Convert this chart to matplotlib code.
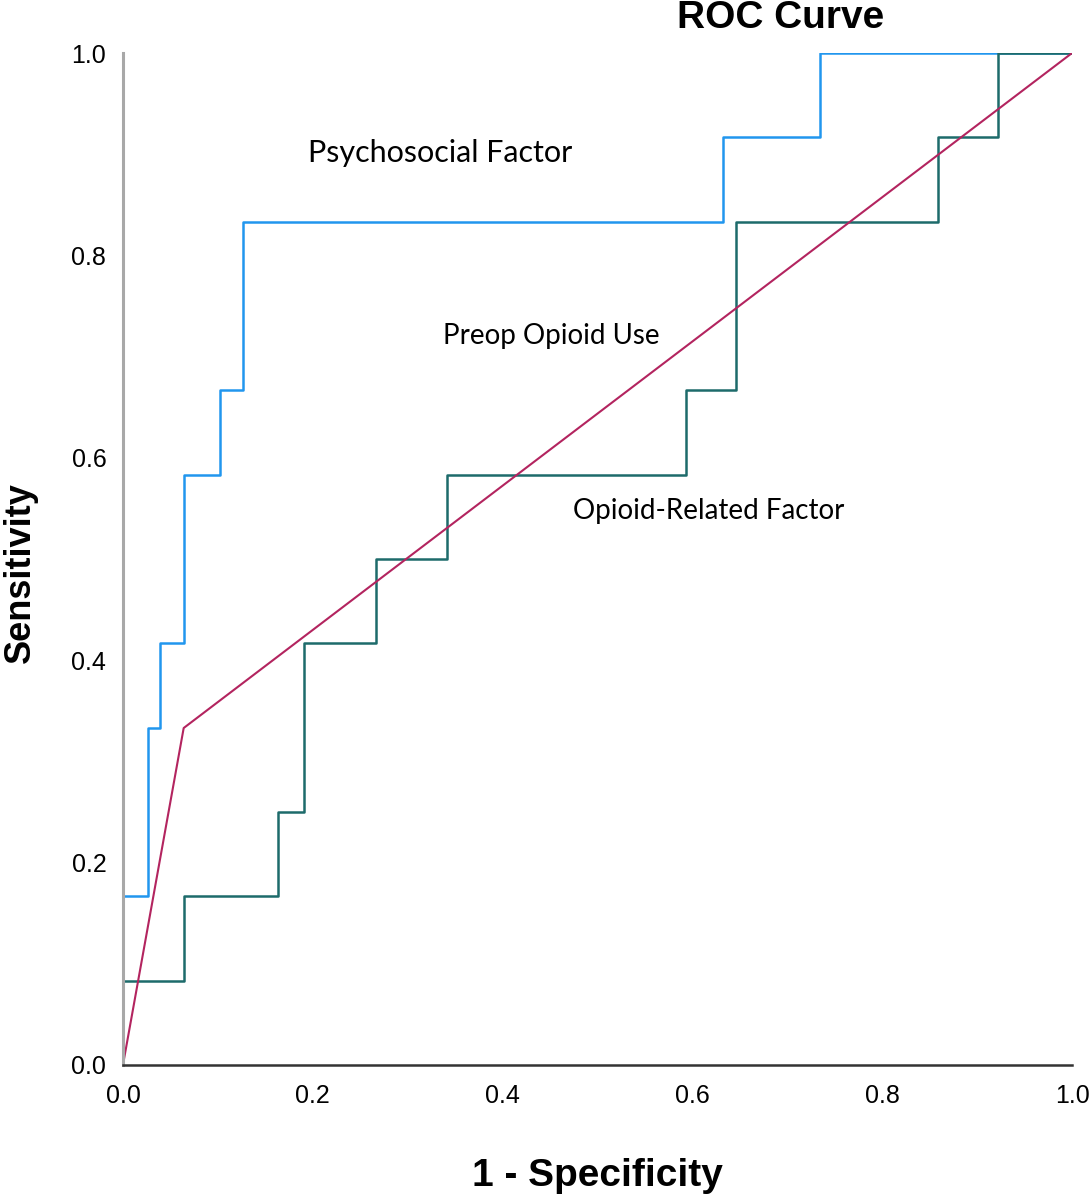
import matplotlib
matplotlib.use("Agg")
import matplotlib.pyplot as plt

# ROC corner points (1 - specificity, sensitivity)
psych_fpr = [0, 0, 0.026, 0.026, 0.039, 0.039, 0.064, 0.064, 0.102, 0.102,
             0.127, 0.127, 0.632, 0.632, 0.734, 0.734, 1.0]
psych_tpr = [0, 0.167, 0.167, 0.333, 0.333, 0.417, 0.417, 0.583, 0.583, 0.667,
             0.667, 0.833, 0.833, 0.917, 0.917, 1.0, 1.0]

opioid_fpr = [0, 0, 0.064, 0.064, 0.163, 0.163, 0.191, 0.191, 0.267, 0.267,
              0.341, 0.341, 0.593, 0.593, 0.646, 0.646, 0.859, 0.859, 0.922,
              0.922, 1.0]
opioid_tpr = [0, 0.083, 0.083, 0.167, 0.167, 0.25, 0.25, 0.417, 0.417, 0.5,
              0.5, 0.583, 0.583, 0.667, 0.667, 0.833, 0.833, 0.917, 0.917,
              1.0, 1.0]

preop_fpr = [0, 0.064, 1.0]
preop_tpr = [0, 0.333, 1.0]

ticks = [0.0, 0.2, 0.4, 0.6, 0.8, 1.0]
tick_labels = ["0.0", "0.2", "0.4", "0.6", "0.8", "1.0"]

fig = plt.figure(figsize=(10.9, 12), dpi=100)
ax = fig.add_axes([0.1128, 0.1125, 0.8707, 0.8433])

ax.plot(psych_fpr, psych_tpr, color="#2196EE", lw=1.8)
ax.plot(opioid_fpr, opioid_tpr, color="#1D6B6B", lw=1.8)
ax.plot(preop_fpr, preop_tpr, color="#B3245F", lw=1.5)

ax.set_xlim(0, 1)
ax.set_ylim(0, 1)
ax.set_xticks(ticks)
ax.set_xticklabels(tick_labels)
ax.set_yticks(ticks)
ax.set_yticklabels(tick_labels)
ax.tick_params(axis="x", length=0, labelsize=18, pad=14)
ax.tick_params(axis="y", length=0, labelsize=18, pad=12)
for lab in ax.get_xticklabels() + ax.get_yticklabels():
    lab.set_family("Liberation Sans")

for side in ["top", "right"]:
    ax.spines[side].set_visible(False)
ax.spines["left"].set_color("#A8A8A8")
ax.spines["left"].set_linewidth(2.2)
ax.spines["bottom"].set_color("#333333")
ax.spines["bottom"].set_linewidth(1.8)

ax.set_xlabel("1 - Specificity", family="Liberation Sans", fontsize=28,
              fontweight="bold", labelpad=36)
ax.set_ylabel("Sensitivity", family="Liberation Sans", fontsize=26,
              fontweight="bold", labelpad=24)
ax.yaxis.label.set_y(0.487)

fig.text(0.716, 0.985, "ROC Curve", family="Liberation Sans", fontsize=28,
         fontweight="bold", ha="center", va="center")

ax.text(0.195, 0.901, "Psychosocial Factor", family="Lato", fontsize=22,
        va="center")
ax.text(0.337, 0.720, "Preop Opioid Use", family="Lato", fontsize=20,
        va="center")
ax.text(0.474, 0.547, "Opioid-Related Factor", family="Lato", fontsize=20,
        va="center")

fig.savefig("out.png", dpi=100)
